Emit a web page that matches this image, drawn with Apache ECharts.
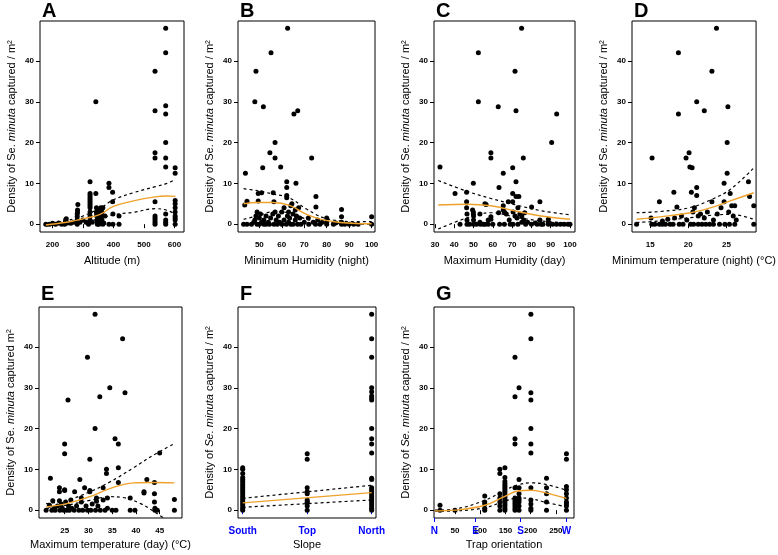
<!DOCTYPE html>
<html><head><meta charset="utf-8">
<script src="https://cdn.jsdelivr.net/npm/echarts@6/dist/echarts.min.js"></script>
<style>html,body{margin:0;padding:0;background:#fff}#c{width:778px;height:555px}</style>
</head><body><div id="c"></div>
<script>
// ---------------- DATA ----------------
const panelLetters = ['A','B','C','D','E','F','G'];
const xNames = ['Altitude (m)','Minimum Humidity (night)','Maximum Humidity (day)','Minimum temperature (night) (°C)','Maximum temperature (day) (°C)','Slope','Trap orientation'];
const yTicks = [0,10,20,30,40];
const xTicks = [[200,300,400,500,600],[50,60,70,80,90,100],[30,40,50,60,70,80,90,100],[15,20,25],[25,30,35,40,45],[1,2,3],[50,100,150,200,250]];
const slopeCats = ['South','Top','North'];
const compassLabels = ['N','E','S','W'];
const compassAt = [9,91,180,271];

// A: altitude
const ptsA = [[178,0],[190,0],[200,0.2],[210,0],[220,0.3],[230,0],[240,0],[242,0.5],[243,1],[245,1.3],[250,0.3],[260,0.2],[270,0.5],[281,0],[281,1],[281,1.8],[281,2.5],[282,3],[282,3.5],[283,4.8],[290,0.5],[300,1],[310,0.5],[318,0],[323,1],[323,2],[323,3],[323,4],[323,4.5],[323,5],[323,5.5],[323,6],[323,6.5],[323,7],[323,7.5],[323,10.4],[330,0.5],[342,30],[342,7.5],[344,4],[344,3],[345,2.5],[345,2],[346,1],[346,0.5],[347,0],[350,3.5],[352,0],[353,1.5],[355,2.5],[356,3.2],[358,4],[358,0.5],[360,2],[362,1],[362,3],[365,0],[365,4],[368,0.3],[372,2],[385,9],[385,10],[385,0],[397,7.8],[397,5.5],[398,2.5],[398,0],[418,2],[418,0],[536,37.5],[536,27.8],[536,17.5],[536,16.2],[536,5.5],[536,2],[536,1.5],[536,1],[536,0.5],[536,0],[571,48],[571,42],[571,29],[571,27],[571,20],[571,16.2],[571,14],[571,2.5],[571,1],[571,0.5],[571,0],[602,13.8],[602,12.5],[602,5.8],[602,5],[602,4],[602,3],[602,2],[602,1.5],[602,1],[602,0]];
const fitA = [[178,-0.2],[240,0.4],[281,1.0],[300,1.3],[356,2.4],[398,4.3],[465,5.7],[537,6.7],[575,6.9],[603,6.8]];
const hiA = [[178,0.2],[240,0.8],[281,1.5],[300,2.0],[356,3.9],[398,5.9],[465,7.7],[537,9.2],[575,10.0],[603,11.0]];
const loA = [[178,-0.5],[240,0.1],[281,0.5],[300,0.7],[356,1.3],[398,2.3],[465,2.9],[537,3.8],[575,3.4],[603,2.4]];

// B: minimum humidity
const ptsB = [[43,0],[43.5,4.7],[43.8,12.5],[44.5,5.6],[44.5,0],[46.5,0],[47.5,0.5],[48,30],[48.5,37.5],[48,1],[48.5,2],[49,0],[49,3],[49.5,7.5],[49.5,5.7],[50,1.5],[50,0],[50.5,2.5],[51,7.7],[51,0.5],[51.5,13.8],[51.8,28.8],[52,1],[52,0],[53,2],[53,0],[54,0.5],[54.5,0],[54.7,17.5],[55.2,42],[55,1.5],[56,2.5],[56.2,7.7],[56.5,5.5],[56.5,0],[57,16.2],[57,20],[57,3],[57.5,1],[58,0],[58.5,2],[59,0.5],[59.5,14],[60,0],[60,3],[61,1],[61,4],[62,0],[62.2,10.4],[62.2,9],[62.2,7],[62.2,6.5],[62.6,48],[62.5,2],[63,3],[63,0.5],[63.5,1.5],[64,0],[64,4.5],[64.5,5],[65,2.5],[65,0],[65.4,27],[66,3.5],[66,1],[66.3,10],[66.5,2],[67.1,27.8],[67,0],[67.5,4],[68,1.5],[68.5,0],[70,0.5],[71.8,1.5],[72,0],[73.3,16.2],[74,0.5],[75,0],[75.2,6.8],[75.2,4.2],[76,1],[77,0],[78,0.5],[80,0],[80,0.5],[80,1.5],[83,0],[84,0.3],[86.6,3.6],[86.6,1.8],[86.6,0.5],[86.6,0],[88,0],[90,0],[92,0],[94,0],[100,1.8],[100,0]];
const fitB = [[43,5.0],[49,5.3],[56,5.3],[63.5,4.6],[71,2.4],[78.5,1.05],[86,0.4],[93,0.15],[100,0.1]];
const hiB = [[43,8.7],[49,8.2],[56,7.4],[63.5,6.4],[71,3.7],[78.5,1.6],[86,0.8],[93,0.6],[100,0.6]];
const loB = [[43,1.2],[49,2.0],[56,3.0],[63.5,2.8],[71,1.2],[78.5,0.4],[86,0.15],[93,0.05],[100,0]];

// C: maximum humidity
const ptsC = [[32.6,14],[40.4,7.5],[43,0],[46.4,7.8],[46.4,5.5],[46.4,4],[46.6,2.5],[46.6,1],[46.6,0],[48,0],[49.5,3.5],[49.9,10],[49.9,3],[49.9,2.5],[50,2],[50,1],[50,0],[51.5,0],[52.5,42],[52.5,30],[53.3,2.5],[53.3,0.5],[53.5,0],[55,0],[55.9,5],[56.5,4.8],[56,0],[57.6,1],[57.6,0],[59,17.5],[59,16.2],[59,1.8],[59,1.2],[60,0],[62.8,28.8],[63.2,9],[63,2.8],[63.5,0],[65.4,12.5],[65.4,4.5],[65.4,3.5],[66,3],[66,0],[67,2.5],[68,5.5],[68.5,1],[69,0],[70.3,13.8],[70.3,7.5],[70.3,5.5],[70.5,3],[70.5,0],[71.5,37.5],[71.5,2],[72,27.8],[72,10.4],[72,6.8],[72.5,1.5],[73,4],[73,0],[73.5,6.8],[74,2.5],[74.9,48],[75,2],[75,0.5],[75.8,16.2],[76,1],[76.5,2.8],[77,0],[78,0.5],[80.1,4.2],[80,0],[82,0.3],[83,0],[84.4,5.5],[84.4,1],[85,0],[86,0],[88.8,1.2],[88.8,0.5],[88.8,0],[90.5,20],[91,0],[93.1,27],[93,0],[95,0],[97,0],[99,0],[100,0]];
const fitC = [[31.7,4.7],[47,4.9],[59,4.5],[73,3.1],[85,2.0],[100,1.2]];
const hiC = [[31.7,10.7],[47,8.0],[59,6.3],[73,4.6],[85,3.3],[100,2.3]];
const loC = [[31.7,-1.2],[47,1.6],[59,2.8],[73,1.6],[85,0.8],[100,0.25]];

// D: minimum temperature
const ptsD = [[13.2,0],[15.1,1.5],[15.24,16.2],[15.2,0],[15.6,0],[16.2,5.5],[16.2,0],[16.6,0],[16.6,0.8],[17.0,0],[17.3,1.2],[17.6,0],[18.1,7.8],[18.0,0],[18.2,1.5],[18.5,4.2],[18.7,27],[18.7,42],[18.8,0],[19.1,2],[19.3,0],[19.7,16.2],[19.8,1],[20.1,17.5],[20.2,14],[20.3,0],[20.4,7.8],[20.5,13.8],[20.6,3],[20.7,0],[20.8,4],[21.1,30],[21.1,9],[21.1,7],[21.3,0],[21.3,2],[21.6,2.5],[21.8,0],[22.1,27.8],[22.1,1.5],[22.3,0],[22.5,3],[22.8,0],[23.1,37.5],[23.1,5.5],[23.3,1],[23.3,0],[23.7,48],[23.8,2.5],[24.1,0],[24.3,4],[24.7,10],[24.7,5.5],[24.8,0],[25.1,12.5],[25.1,20],[25.2,28.8],[25.3,3],[25.5,7.5],[25.4,0],[25.7,4.5],[25.9,2],[26.1,4.5],[26.1,0],[26.3,1],[27.9,10.4],[28.05,6.8],[28.6,4.5],[28.6,0]];
const fitD = [[13.2,1.2],[16.3,1.8],[20.3,2.8],[23.1,4.1],[25.5,5.7],[28.6,7.7]];
const hiD = [[13.2,2.8],[16.3,3.1],[20.3,4.1],[23.1,6.1],[25.5,8.5],[28.6,13.8]];
const loD = [[13.2,0.4],[16.3,0.8],[20.3,1.6],[23.1,2.2],[25.5,2.4],[28.6,1.2]];

// E: maximum temperature
const ptsE = [[21.1,0],[21.8,1.2],[22,7.8],[22.3,0],[22.5,2.3],[22.8,0.5],[23,0],[23.5,1],[23.9,5.5],[23.9,4.5],[23.9,2.3],[24,0],[24.3,1.5],[24.5,0.5],[24.8,0],[25,16.2],[25,13.8],[25,5],[25,4.8],[25.2,2],[25.4,0],[25.7,27],[25.8,1],[26,0],[26.3,2.5],[26.5,0.5],[27,0],[27.1,4.5],[27.5,1],[28,0],[28.2,7.5],[28.5,2],[28.5,3],[28.8,0],[29.2,5.5],[29.5,1],[29.8,37.5],[29.8,0],[30.3,12.5],[30.3,4.8],[30.3,4.5],[30.5,0],[30.8,1.5],[31.4,48],[31.4,20],[31.5,0],[31.7,2.2],[31.7,3],[32,1],[32.4,27.8],[32.5,0],[33.1,5.5],[33.1,2.5],[33.5,0],[33.8,10],[33.8,9],[34,3],[34,0.5],[34.5,30],[35,0],[35.6,17.5],[35.8,0],[36.3,16.2],[36.3,10.4],[36.3,6.8],[37.2,42],[37.7,28.8],[38.8,3],[38.8,0],[39.8,0],[41.7,4.5],[41.7,4.2],[42.3,7.5],[43.9,6.8],[43.9,4],[43.9,2],[44,0.5],[44,0],[45,14],[44.5,0],[48.1,2.6],[48.1,0]];
const fitE = [[21.1,0.8],[25.4,1.6],[30.3,3.3],[34.5,5.3],[39.5,6.7],[43.7,6.8],[48.1,6.7]];
const hiE = [[21.1,1.6],[25.4,2.4],[30.3,4.5],[34.5,6.9],[39.5,10.4],[43.7,13.5],[48.1,16.3]];
const loE = [[21.1,0.4],[25.4,1.2],[30.3,2.4],[34.5,3.3],[37.3,3.1],[41,1.6],[44.4,-0.8],[48.1,-3.7]];

// F: slope (South, Top, North)
const slopeValues = [
  [0,0.5,1,1.5,2,2.5,3,3.5,4,4.5,5,5.5,6,6.5,7,7.5,8,9,10,10.4],
  [13.8,12.5,5.5,4.5,4,2.5,2,1.8,1,0],
  [48,42,37.5,30,29,28,27.5,27,20,17.5,16.2,14,7.8,7.5,5.5,5,4.5,4,3.5,3,2.5,2,1.5,1,0.5,0]
];
const fitF = [[1,1.8],[3,4.3]];
const hiF = [[1,2.9],[3,6.1]];
const loF = [[1,0.7],[3,2.5]];

// G: trap orientation
const orientAt = [20.3,50,109,139,149,169,177,200.5,231.5,271];
const orientValues = [
  [1.2,0],[0],[3.5,2,1.5,0.5,0],[10,9,4,3,2,1,0],
  [10.4,8,7,6.5,6,5.5,5,4.5,4,3.5,3,2.5,2,1.5,1,0.5,0],
  [37.5,27.8,17.5,16.2,5.5,3,2.5,2,1.5,1,0.5,0],
  [30,7.5,5.5,4,3,2.5,2,1,0],
  [48,42,28.8,27,20,16.2,14,5.5,2.5,1.5,0.5,0],
  [7.8,5.5,4,2,0],
  [13.8,12.5,5.8,5,4,3,2,1.5,1,0]
];
const fitG = [[10.4,-0.2],[50,0],[109,1.2],[149,3.4],[175,4.7],[201,4.9],[227.5,4.3],[271,2.9]];
const hiG = [[10.4,0],[50,0.3],[109,2.4],[149,4.9],[175,6.2],[201,6.7],[227.5,6.4],[271,4.9]];
const loG = [[10.4,-0.3],[50,-0.2],[109,0.6],[149,2.2],[175,3.0],[201,2.8],[227.5,2.0],[271,0.8]];

// ---------------- BUILD ----------------
const ptsF = [];
slopeValues.forEach((arr, i) => arr.forEach(v => ptsF.push([i + 1, v])));
const ptsG = [];
orientValues.forEach((arr, i) => arr.forEach(v => ptsG.push([orientAt[i], v])));

const allPts = [ptsA, ptsB, ptsC, ptsD, ptsE, ptsF, ptsG];
const allFit = [fitA, fitB, fitC, fitD, fitE, fitF, fitG];
const allHi = [hiA, hiB, hiC, hiD, hiE, hiF, hiG];
const allLo = [loA, loB, loC, loD, loE, loF, loG];

const FONT = 'Liberation Sans';
const xRanges = [[159,631],[40.5,101.5],[29.5,102.6],[12.6,28.9],[19.6,49.7],[0.927,3.067],[8.4,286]];
const grids = [
  {left:40, top:21, width:144, height:211},
  {left:238, top:21, width:137, height:211},
  {left:434, top:21, width:141, height:211},
  {left:632, top:21, width:136, height:211},
  {left:39, top:307, width:143, height:211},
  {left:238, top:307, width:138, height:211},
  {left:434, top:307, width:140, height:211}
];
grids.forEach(g => { g.show = true; g.borderColor = '#000'; g.borderWidth = 1; g.backgroundColor = 'transparent'; g.containLabel = false; });

const yName = (i) => {
  if (i === 4) return '{n|Density of Se. }{i|minuta}{n| captured m²}';
  if (i >= 5) return '{n|Density of }{i|Se. minuta}{n| captured / m²}';
  return '{n|Density of Se. }{i|minuta}{n| captured / m²}';
};

const xAxes = [], yAxes = [], series = [], titles = [];
for (let i = 0; i < 7; i++) {
  const row2 = i >= 4;
  const isF = i === 5;
  xAxes.push({
    gridIndex: i, type: 'value', min: xRanges[i][0], max: xRanges[i][1],
    axisLine: {show: false}, splitLine: {show: false},
    axisTick: {show: true, inside: false, length: 4, customValues: xTicks[i], lineStyle: {color: isF ? '#0000ff' : '#000', width: 1}},
    axisLabel: {show: true, customValues: xTicks[i], margin: isF ? 8 : 9, fontSize: isF ? 10 : 8, fontWeight: 'bold', fontFamily: FONT,
      color: isF ? '#0000ff' : '#000',
      formatter: isF ? (v => slopeCats[Math.round(v) - 1]) : (v => String(v))},
    name: xNames[i], nameLocation: 'middle', nameGap: row2 ? 21 : 23,
    nameTextStyle: {fontSize: 11, fontFamily: FONT, color: '#000'}
  });
  yAxes.push({
    gridIndex: i, type: 'value', min: -1.92, max: 49.8,
    axisLine: {show: false}, splitLine: {show: false},
    axisTick: {show: true, inside: false, length: 4, customValues: yTicks, lineStyle: {color: '#000', width: 1}},
    axisLabel: {show: true, customValues: yTicks, margin: 6, fontSize: 8, fontWeight: 'bold', fontFamily: FONT, color: '#000'},
    name: yName(i), nameLocation: 'middle', nameRotate: 90, nameGap: 23,
    nameTextStyle: {fontSize: 11, fontFamily: FONT, color: '#000',
      rich: {n: {fontSize: 11, fontFamily: FONT, color: '#000'}, i: {fontSize: 11, fontFamily: FONT, fontStyle: 'italic', color: '#000'}}}
  });
  titles.push({text: panelLetters[i], left: grids[i].left + 2, top: row2 ? 284 : 1, padding: 0,
    textStyle: {fontSize: 20, fontWeight: 'bold', fontFamily: FONT, color: '#000'}});
  series.push({type: 'scatter', xAxisIndex: i, yAxisIndex: i, data: allPts[i], symbol: 'circle', symbolSize: 5,
    itemStyle: {color: '#000', opacity: 1}, silent: true, z: 2});
  series.push({type: 'line', xAxisIndex: i, yAxisIndex: i, data: allHi[i], showSymbol: false, smooth: isF ? false : 0.4,
    lineStyle: {color: '#000', width: 1.2, type: [3, 3]}, silent: true, z: 3, clip: true});
  series.push({type: 'line', xAxisIndex: i, yAxisIndex: i, data: allLo[i], showSymbol: false, smooth: isF ? false : 0.4,
    lineStyle: {color: '#000', width: 1.2, type: [3, 3]}, silent: true, z: 3, clip: true});
  series.push({type: 'line', xAxisIndex: i, yAxisIndex: i, data: allFit[i], showSymbol: false, smooth: isF ? false : 0.4,
    lineStyle: {color: '#eea22c', width: 1.4}, silent: true, z: 4, clip: true});
}
// compass axis for G
xAxes.push({
  gridIndex: 6, type: 'value', min: xRanges[6][0], max: xRanges[6][1], position: 'bottom',
  axisLine: {show: false}, splitLine: {show: false},
  axisTick: {show: true, inside: false, length: 4, customValues: compassAt, lineStyle: {color: '#0000ff', width: 1}},
  axisLabel: {show: true, customValues: compassAt, margin: 8, fontSize: 10, fontWeight: 'bold', fontFamily: FONT, color: '#0000ff',
    formatter: v => compassLabels[compassAt.indexOf(v)] || ''}
});

const chart = echarts.init(document.getElementById('c'), null, {renderer: 'canvas'});
chart.setOption({
  animation: false,
  backgroundColor: '#fff',
  title: titles,
  grid: grids,
  xAxis: xAxes,
  yAxis: yAxes,
  series: series
});
</script></body></html>
